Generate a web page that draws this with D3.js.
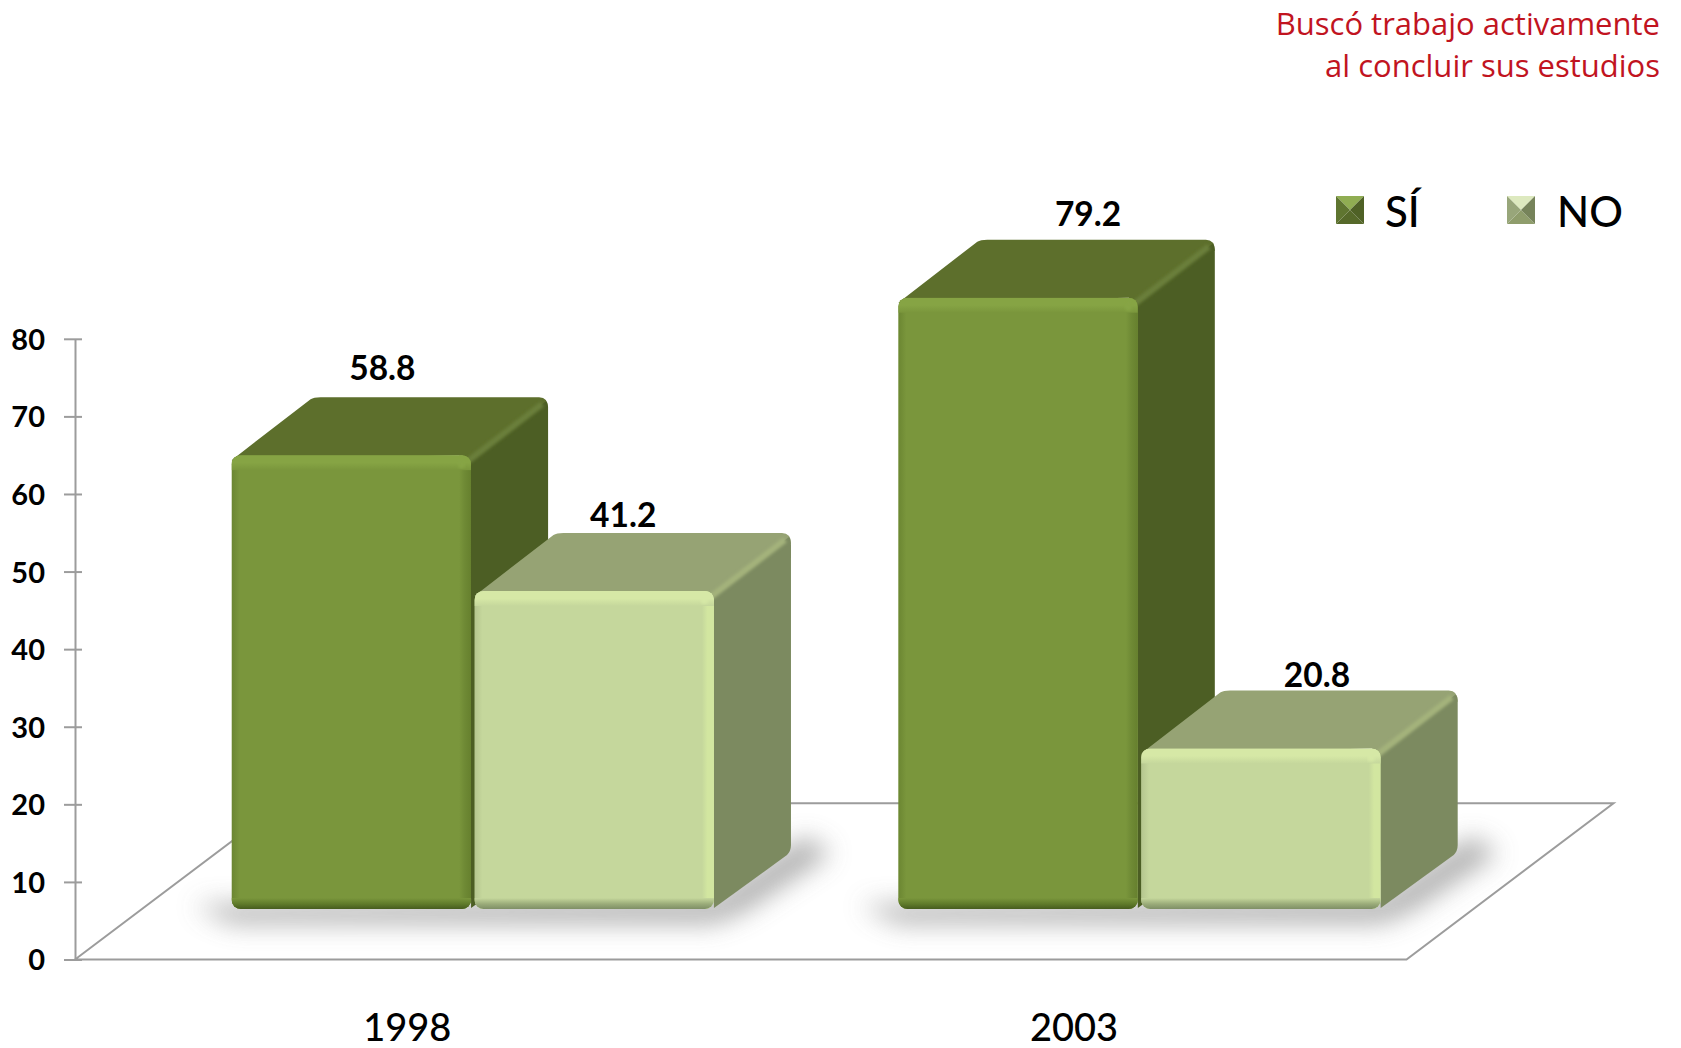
<!DOCTYPE html>
<html><head><meta charset="utf-8">
<script src="https://cdn.jsdelivr.net/npm/d3@7/dist/d3.min.js"></script>
<style>html,body{margin:0;background:#fff}svg{display:block}text{font-family:Lato,sans-serif}</style>
</head><body><div id="c"></div>
<script>
const years = ["1998", "2003"];
const seriesNames = ["SÍ", "NO"];
const siValues = [58.8, 79.2];
const noValues = [41.2, 20.8];
const yTicks = [0, 10, 20, 30, 40, 50, 60, 70, 80];
const titleLines = ["Buscó trabajo activamente", "al concluir sus estudios"];

const W = 1681, H = 1048, depthX = 77, depthY = 58, baseY = 909;
const palette = {
  "SÍ": {front:"#7a963c", top:"#5d6f2c", side:"#4c5e24", hi:"#86a444", edge:"#6f8a35", low:"#465c1e", sideEdge:"#6b7f3a", leg:["#90ad52","#56692a","#4f6126","#5f7530"]},
  "NO": {front:"#c5d79c", top:"#96a374", side:"#7c8a60", hi:"#d6e8a6", edge:"#d2e6a0", low:"#7f8f66", sideEdge:"#a4b37c", leg:["#dde9bf","#8f9d6c","#76835a","#98a67a"]}
};
const svg = d3.select("#c").append("svg").attr("width", W).attr("height", H);
const defs = svg.append("defs");
defs.append("filter").attr("id","blur").attr("x","-20%").attr("y","-50%").attr("width","140%").attr("height","200%")
  .append("feGaussianBlur").attr("stdDeviation",13);
defs.append("filter").attr("id","soft").append("feGaussianBlur").attr("stdDeviation",1.6);

function grad(id, vertical, stops){
  const g = defs.append("linearGradient").attr("id",id)
    .attr("x1",0).attr("y1",0).attr("x2",vertical?0:1).attr("y2",vertical?1:0);
  stops.forEach(s=>g.append("stop").attr("offset",s[0]).attr("stop-color",s[1]));
}
seriesNames.forEach((s,i)=>{
  const p = palette[s];
  grad("t"+i,true,[[0,p.hi],[0.5,p.hi],[1,p.front]]);
  grad("r"+i,false,[[0,p.front],[0.45,p.edge],[1,s==="SÍ"?"#66802e":p.edge]]);
  grad("l"+i,false,[[0,s==="SÍ"?"#6b8632":"#b5c68f"],[1,p.front]]);
  grad("b"+i,true,[[0,p.front],[0.55,s==="SÍ"?"#5f7a2a":"#9aab79"],[1,p.low]]);
});

// scales
const yAxisScale = d3.scaleLinear().domain([0,80]).range([959.5,338.8]);
const barScale = d3.scaleLinear().domain([0,80]).range([baseY, baseY-617.5]);
const xYear = d3.scaleBand().domain(years).range([231.6,1380.7]).paddingInner(0.2765);
const xSeries = d3.scaleBand().domain(seriesNames).range([0,xYear.bandwidth()]).paddingInner(0.014);

// floor
const floorFront = 959.5, floorBack = yAxisScale(20)-1, floorL = 75, floorR = 1406.5, fdx = 207;
svg.append("path").attr("fill","#fff").attr("stroke","#9c9c9c").attr("stroke-width",2)
  .attr("stroke-linejoin","miter")
  .attr("d",d3.line()([[floorL,floorFront],[floorR,floorFront],[floorR+fdx,floorBack],[floorL+fdx,floorBack],[floorL,floorFront]]));

// axis
const axis = d3.axisLeft(yAxisScale).tickValues(yTicks).tickSize(0).tickPadding(0);
const ag = svg.append("g").attr("transform",`translate(${floorL},0)`).call(axis);
ag.select(".domain").attr("stroke","#9c9c9c").attr("stroke-width",2);
ag.selectAll(".tick line").attr("x1",-11).attr("x2",7).attr("stroke","#9c9c9c").attr("stroke-width",2);
ag.selectAll(".tick text").attr("x",-30).attr("dy","0.36em").attr("fill","#000")
  .style("font-family","Lato,sans-serif").style("font-size","29px").style("font-weight",700);

// shadows
svg.append("g").selectAll("path").data(years).join("path")
  .attr("filter","url(#blur)").attr("fill","#999").attr("opacity",.8)
  .attr("d",y=>{
    const a=xYear(y), b=a+xYear.bandwidth();
    return d3.line()([[a-38,baseY-4],[a,baseY+14],[b,baseY+14],[b+30,baseY+2],[b+depthX+40,baseY-depthY+2],[b+depthX+14,baseY-depthY-14],[b,baseY-10]]);
  });

// bars
const rows = years.flatMap((y,i)=>[
  {year:y, s:"SÍ", si:0, v:siValues[i]},
  {year:y, s:"NO", si:1, v:noValues[i]}
]);
const r = 9;
const bars = svg.append("g").selectAll("g").data(rows).join("g")
  .attr("transform",d=>`translate(${xYear(d.year)+xSeries(d.s)},${barScale(d.v)})`);
bars.each(function(d,i){
  const g = d3.select(this), p = palette[d.s], w = xSeries.bandwidth(), h = baseY-barScale(d.v);
  // top face
  g.append("path").attr("fill",p.top).attr("d",
    `M0,5 L${depthX+2},${-depthY+2} Q${depthX+5},${-depthY} ${depthX+12},${-depthY} L${w+depthX-9},${-depthY} Q${w+depthX},${-depthY} ${w+depthX},${-depthY+11} L${w},10 L${w-r},0 Z`);
  // side face
  g.append("path").attr("fill",p.side).attr("d",
    `M${w-2},4 L${w+depthX-2},${-depthY+4} Q${w+depthX},${-depthY+6} ${w+depthX},${-depthY+12} L${w+depthX},${h-depthY-6} Q${w+depthX},${h-depthY} ${w+depthX-4},${h-depthY+4} L${w},${h-1} Z`);
  // edge highlight top/side
  g.append("path").attr("filter","url(#soft)").attr("stroke",p.sideEdge).attr("stroke-width",6).attr("fill","none")
    .attr("d",`M${w-3},6 L${w+depthX-6},${-depthY+7}`);
  // front
  const cid = "clip"+i;
  defs.append("clipPath").attr("id",cid).append("rect").attr("width",w).attr("height",h).attr("rx",r).attr("ry",r);
  const f = g.append("g").attr("clip-path",`url(#${cid})`);
  f.append("rect").attr("width",w).attr("height",h).attr("fill",p.front);
  f.append("rect").attr("width",8).attr("height",h).attr("fill",`url(#l${d.si})`);
  f.append("rect").attr("x",w-12).attr("width",12).attr("height",h).attr("fill",`url(#r${d.si})`);
  f.append("rect").attr("width",w).attr("height",15).attr("fill",`url(#t${d.si})`);
  f.append("rect").attr("y",h-11).attr("width",w).attr("height",11).attr("fill",`url(#b${d.si})`);
  f.append("rect").attr("x",w-13).attr("y",5).attr("width",7).attr("height",8).attr("rx",3).attr("fill",p.hi).attr("filter","url(#soft)");
});

// value labels (offset from the top-centre of each bar's front face)
const labelDx = [31, 29, 70, 56], labelDy = [75, 64, 72, 61];
svg.append("g").selectAll("text").data(rows).join("text")
  .attr("x",(d,i)=>xYear(d.year)+xSeries(d.s)+xSeries.bandwidth()/2+labelDx[i])
  .attr("y",(d,i)=>barScale(d.v)-labelDy[i])
  .attr("text-anchor","middle").attr("font-size",33.5).attr("font-weight",700).attr("fill","#000")
  .text(d=>d.v.toFixed(1));

// category labels
svg.append("g").selectAll("text").data(years).join("text")
  .attr("x",y=>xYear(y)+xYear.bandwidth()/2-65.5).attr("y",1041)
  .attr("text-anchor","middle").attr("font-size",38).attr("font-weight",500).attr("fill","#000").text(y=>y);

// title
svg.append("g").selectAll("text").data(titleLines).join("text")
  .attr("x",1660).attr("y",(d,i)=>35+i*42).attr("text-anchor","end")
  .attr("fill","#c1141f").attr("font-size",31).style("font-family","'Open Sans',sans-serif").text(d=>d);

// legend
const legX = d3.scalePoint().domain(seriesNames).range([1336,1507]);
const leg = svg.append("g").selectAll("g").data(seriesNames).join("g")
  .attr("transform",s=>`translate(${legX(s)},196)`);
leg.each(function(s){
  const g=d3.select(this), c=palette[s].leg, z=28, m=z/2;
  const polys=[
    [[0,0],[z,0],[m,m]],
    [[0,z],[z,z],[m,m]],
    [[z,0],[z,z],[m,m]],
    [[0,0],[0,z],[m,m]]
  ];
  polys.forEach((pt,i)=>g.append("polygon").attr("points",pt.join(" ")).attr("fill",c[i]));
  g.append("text").attr("x",s==="NO"?50:49).attr("y",31).attr("font-size",42).attr("font-weight",500).attr("fill","#000").text(s);
});
</script></body></html>
